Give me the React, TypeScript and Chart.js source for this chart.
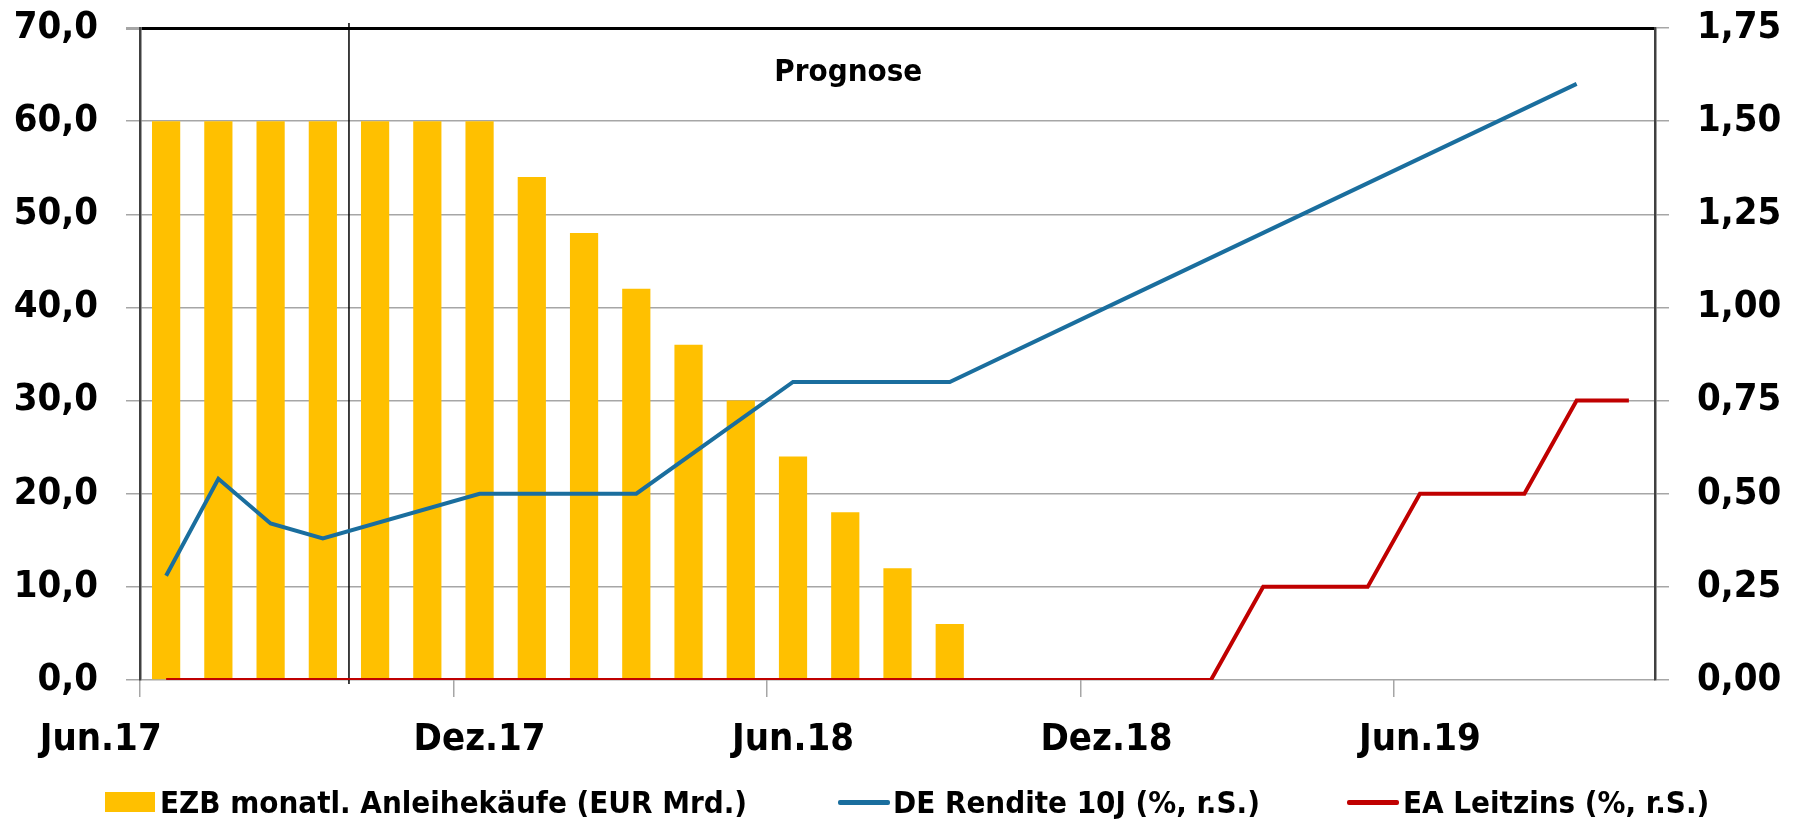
import React, { useEffect, useRef } from 'react';
import { Chart, registerables } from 'chart.js';

Chart.register(...registerables);

const categories = [
  'Jun.17', 'Jul.17', 'Aug.17', 'Sep.17', 'Okt.17', 'Nov.17', 'Dez.17',
  'Jan.18', 'Feb.18', 'Mär.18', 'Apr.18', 'Mai.18', 'Jun.18', 'Jul.18',
  'Aug.18', 'Sep.18', 'Okt.18', 'Nov.18', 'Dez.18', 'Jan.19', 'Feb.19',
  'Mär.19', 'Apr.19', 'Mai.19', 'Jun.19', 'Jul.19', 'Aug.19', 'Sep.19', 'Okt.19',
];

const bondPurchases = [
  60, 60, 60, 60, 60, 60, 60, 54, 48, 42, 36, 30, 24, 18, 12, 6,
  null, null, null, null, null, null, null, null, null, null, null, null, null,
];

const bundYield = [
  0.28, 0.54, 0.42, 0.38, null, null, 0.5, null, null, 0.5, null, null, 0.8, null,
  null, 0.8, null, null, 1.0, null, null, 1.2, null, null, 1.4, null, null, 1.6, null,
];

const policyRate = [
  0, 0, 0, 0, 0, 0, 0, 0, 0, 0, 0, 0, 0, 0, 0, 0, 0, 0, 0, 0, 0,
  0.25, 0.25, 0.25, 0.5, 0.5, 0.5, 0.75, 0.75,
];

const seriesNames = [
  'EZB monatl. Anleihekäufe (EUR Mrd.)',
  'DE Rendite 10J (%, r.S.)',
  'EA Leitzins (%, r.S.)',
];

const forecastLabel = 'Prognose';
const forecastStartIndex = 4;
const forecastLabelIndex = 13;

const FONT = '"DejaVu Sans Condensed", "DejaVu Sans", sans-serif';
const YELLOW = '#FFC000';
const BLUE = '#1A6E9E';
const RED = '#C00000';
const GRID = '#A6A6A6';

const overlayPlugin = {
  id: 'overlay',
  beforeDatasetsDraw(chart: any) {
    const { ctx, chartArea, scales } = chart;
    const x =
      (scales.x.getPixelForValue(forecastStartIndex - 1) +
        scales.x.getPixelForValue(forecastStartIndex)) / 2;
    ctx.save();
    ctx.strokeStyle = '#000000';
    ctx.lineWidth = 1.5;
    ctx.beginPath();
    ctx.moveTo(x, chartArea.top - 5);
    ctx.lineTo(x, chartArea.bottom + 4);
    ctx.stroke();
    ctx.restore();
  },
  afterDatasetsDraw(chart: any) {
    const { ctx, chartArea, scales } = chart;
    ctx.save();
    ctx.fillStyle = '#000000';
    ctx.font = `bold 31px ${FONT}`;
    ctx.textAlign = 'center';
    ctx.textBaseline = 'middle';
    ctx.fillText(forecastLabel, scales.x.getPixelForValue(forecastLabelIndex) + 3, chartArea.top + 45);
    ctx.restore();
  },
};

export default function App() {
  const canvasRef = useRef<HTMLCanvasElement | null>(null);

  useEffect(() => {
    if (!canvasRef.current) return;
    const chart = new Chart(canvasRef.current, {
      type: 'bar',
      data: {
        labels: categories,
        datasets: [
          {
            type: 'bar',
            label: seriesNames[0],
            data: bondPurchases as any,
            backgroundColor: YELLOW,
            borderWidth: 0,
            barPercentage: 0.54,
            categoryPercentage: 1,
            yAxisID: 'y',
            order: 3,
          },
          {
            type: 'line',
            label: seriesNames[1],
            data: bundYield as any,
            borderColor: BLUE,
            backgroundColor: BLUE,
            borderWidth: 4,
            pointRadius: 0,
            spanGaps: true,
            tension: 0,
            yAxisID: 'y1',
            order: 1,
          },
          {
            type: 'line',
            label: seriesNames[2],
            data: policyRate,
            borderColor: RED,
            backgroundColor: RED,
            borderWidth: 4,
            pointRadius: 0,
            tension: 0,
            yAxisID: 'y1',
            order: 2,
          },
        ],
      },
      options: {
        animation: false,
        responsive: true,
        maintainAspectRatio: false,
        layout: { padding: { top: 28, left: 0, right: 0, bottom: 0 } },
        plugins: {
          legend: { display: false },
          tooltip: { enabled: false },
        },
        scales: {
          x: {
            offset: true,
            grid: {
              offset: true,
              drawOnChartArea: false,
              drawTicks: true,
              tickLength: 17,
              lineWidth: 1.5,
              color: (c: any) =>
                c.index !== undefined && c.type === 'tick' && c.index % 6 === 0 ? GRID : 'rgba(0,0,0,0)',
            },
            border: { display: false },
            ticks: {
              autoSkip: false,
              maxRotation: 0,
              padding: 20,
              color: '#000',
              font: { family: FONT, size: 38, weight: 'bold' },
              // the first label sits left of its category in the original (trailing spaces shift it)
              callback: (_v: any, i: number) =>
                i === 0 ? categories[i] + ' '.repeat(11) : i % 6 === 0 ? categories[i] : '',
            },
            afterFit: (s: any) => {
              s.height = 142;
            },
          },
          y: {
            position: 'left',
            min: 0,
            max: 70,
            ticks: {
              stepSize: 10,
              padding: 28,
              color: '#000',
              font: { family: FONT, size: 38, weight: 'bold' },
              callback: (v: any) => Number(v).toFixed(1).replace('.', ','),
            },
            grid: {
              color: (c: any) => (c.tick && c.tick.value === 70 ? '#000000' : GRID),
              lineWidth: (c: any) => (c.tick && c.tick.value === 70 ? 3 : 1.5),
              tickColor: GRID,
              tickLength: 14,
            },
            border: { display: true, color: '#404040', width: 2.5 },
            afterFit: (s: any) => {
              s.width = 140;
              s.paddingTop = 0;
              s.paddingBottom = 0;
            },
          },
          y1: {
            position: 'right',
            min: 0,
            max: 1.75,
            ticks: {
              stepSize: 0.25,
              padding: 28,
              color: '#000',
              font: { family: FONT, size: 38, weight: 'bold' },
              callback: (v: any) => Number(v).toFixed(2).replace('.', ','),
            },
            grid: {
              drawOnChartArea: false,
              tickColor: GRID,
              tickLength: 14,
              lineWidth: 1.5,
            },
            border: { display: true, color: '#404040', width: 2.5 },
            afterFit: (s: any) => {
              s.width = 146;
              s.paddingTop = 0;
              s.paddingBottom = 0;
            },
          },
        },
      },
      plugins: [overlayPlugin],
    });
    return () => chart.destroy();
  }, []);

  const legendText: React.CSSProperties = {
    font: `bold 31px ${FONT}`,
    color: '#000',
    whiteSpace: 'nowrap',
  };
  const item = (left: number): React.CSSProperties => ({
    position: 'absolute',
    left,
    top: 782,
    height: 40,
    display: 'flex',
    alignItems: 'center',
  });

  return (
    <div
      style={{
        position: 'fixed',
        left: 0,
        top: 0,
        width: 1801,
        height: 822,
        background: '#fff',
      }}
    >
      <div style={{ position: 'absolute', left: 0, top: 0, width: 1801, height: 822 }}>
        <canvas ref={canvasRef} />
      </div>
      <div style={item(105)}>
        <div style={{ width: 50, height: 20, background: YELLOW, marginRight: 5 }} />
        <span style={legendText}>{seriesNames[0]}</span>
      </div>
      <div style={item(838)}>
        <div style={{ width: 52, height: 5, background: BLUE, borderRadius: 2, marginRight: 3 }} />
        <span style={legendText}>{seriesNames[1]}</span>
      </div>
      <div style={item(1347)}>
        <div style={{ width: 52, height: 5, background: RED, borderRadius: 2, marginRight: 4 }} />
        <span style={legendText}>{seriesNames[2]}</span>
      </div>
    </div>
  );
}
